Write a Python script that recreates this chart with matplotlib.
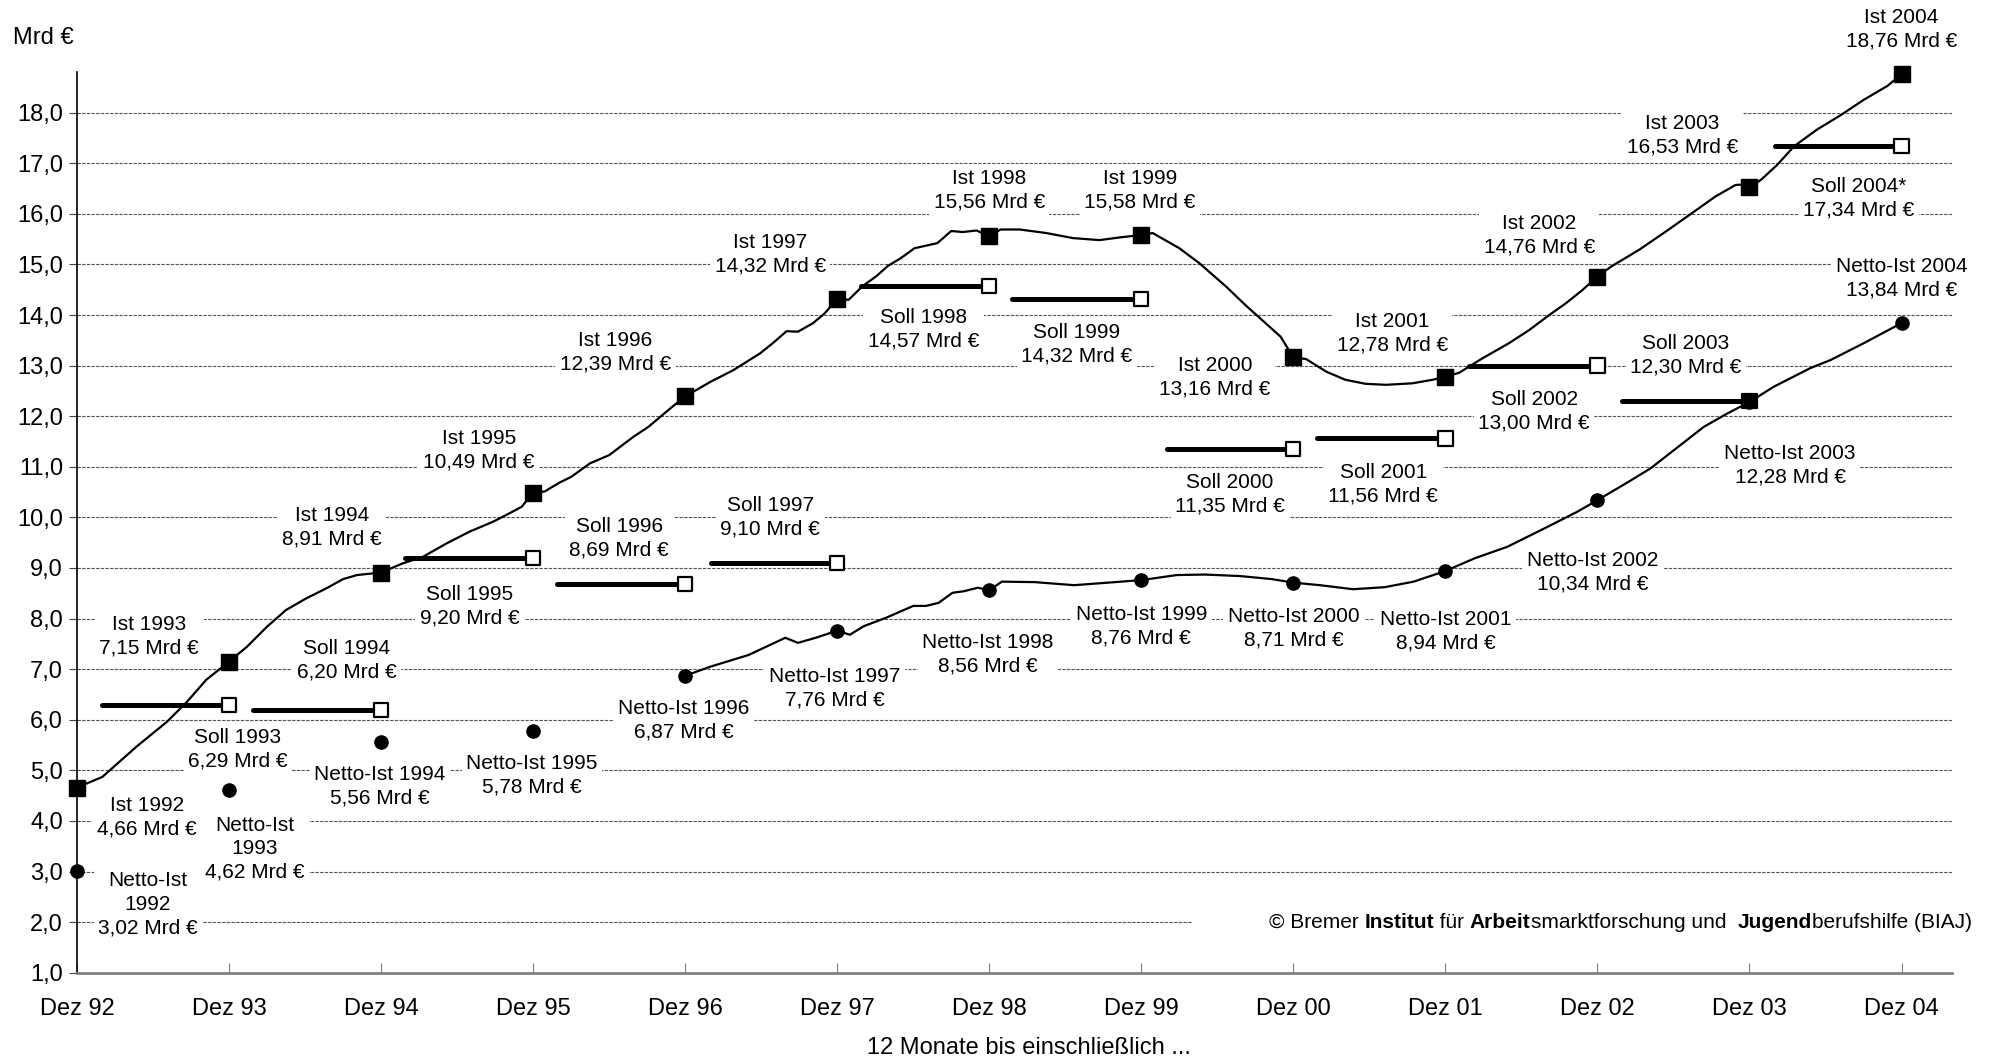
import matplotlib
matplotlib.use("Agg")
import matplotlib.pyplot as plt
from matplotlib.patches import Rectangle

plt.rcParams['font.family'] = ['Liberation Sans', 'DejaVu Sans']

# months since Dez 92
tick_pos = [0, 12, 24, 36, 48, 60, 72, 84, 96, 108, 120, 132, 144]
tick_lab = ['Dez 92', 'Dez 93', 'Dez 94', 'Dez 95', 'Dez 96', 'Dez 97', 'Dez 98',
            'Dez 99', 'Dez 00', 'Dez 01', 'Dez 02', 'Dez 03', 'Dez 04']

# Ist (12-Monats-Summe)
ist_m = [0, 2.0, 4.7, 7.1, 8.7, 10.2, 12, 13.4, 15.0, 16.5, 18.1, 19.7, 21.0, 22.1, 24,
         25.7, 27.3, 29.2, 31.0, 32.8, 33.9, 35.1, 36, 36.9, 38.1, 39.0, 40.5, 42.0,
         43.9, 45.1, 47.0, 48, 50.0, 51.8, 53.9, 54.9, 56.0, 56.9, 58.1, 59.0, 60,
         60.9, 62.0, 63.1, 64.0, 65.0, 66.1, 67.9, 69.0, 69.9, 71.0, 72, 72.9, 74.4,
         76.5, 78.6, 80.7, 82.5, 84, 84.9, 87.0, 88.6, 90.7, 92.2, 93.8, 95.0, 96,
         97.0, 98.6, 100.1, 101.7, 103.3, 105.4, 107.0, 108, 109.1, 110.9, 113.0,
         114.6, 116.2, 117.5, 118.8, 120, 121.1, 123.3, 125.4, 127.5, 129.3, 130.9,
         131.5, 132, 132.9, 134.2, 135.5, 137.3, 139.2, 141.0, 142.9, 144]
ist_v = [4.66, 4.87, 5.47, 5.96, 6.36, 6.79, 7.15, 7.44, 7.84, 8.17, 8.40, 8.60, 8.78, 8.86, 8.91,
         9.09, 9.22, 9.49, 9.72, 9.91, 10.05, 10.21, 10.49, 10.51, 10.69, 10.80, 11.07, 11.23,
         11.59, 11.79, 12.19, 12.39, 12.68, 12.91, 13.24, 13.44, 13.68, 13.67, 13.84, 14.03, 14.32,
         14.30, 14.57, 14.77, 14.97, 15.12, 15.32, 15.42, 15.66, 15.64, 15.67, 15.56, 15.69, 15.69,
         15.62, 15.52, 15.48, 15.54, 15.58, 15.62, 15.32, 15.02, 14.56, 14.20, 13.84, 13.57, 13.16,
         13.13, 12.88, 12.72, 12.64, 12.62, 12.65, 12.72, 12.78, 12.86, 13.14, 13.44,
         13.70, 14.00, 14.23, 14.49, 14.76, 14.96, 15.29, 15.65, 16.02, 16.34, 16.57,
         16.58, 16.53, 16.67, 16.97, 17.33, 17.66, 17.95, 18.25, 18.53, 18.76]

# Netto-Ist, monthly curve from Dez 96
netto_m = [48, 50.0, 53.0, 55.9, 56.9, 58.3, 60, 61.0, 62.1, 63.9, 66.0, 67.0, 68.0, 69.1,
           70.0, 71.1, 72, 73.0, 75.6, 78.7, 81.9, 84, 86.8, 89.0, 91.8, 94.3, 96, 98.1,
           100.7, 103.2, 105.5, 108, 110.3, 112.9, 115.8, 118.4, 120, 122.5, 124.2, 126.4,
           128.4, 130.3, 132, 133.9, 136.8, 138.4, 141.0, 144]
netto_v = [6.87, 7.05, 7.28, 7.62, 7.52, 7.62, 7.76, 7.68, 7.85, 8.02, 8.25, 8.25, 8.31, 8.51,
           8.54, 8.61, 8.56, 8.73, 8.72, 8.66, 8.72, 8.76, 8.86, 8.87, 8.84, 8.78, 8.71, 8.66,
           8.58, 8.62, 8.73, 8.94, 9.19, 9.42, 9.78, 10.11, 10.34, 10.71, 10.97, 11.40,
           11.79, 12.06, 12.28, 12.58, 12.95, 13.11, 13.44, 13.84]

# yearly values (Dez)
ist_year = [4.66, 7.15, 8.91, 10.49, 12.39, 14.32, 15.56, 15.58, 13.16, 12.78, 14.76, 16.53, 18.76]
netto_year = [3.02, 4.62, 5.56, 5.78, 6.87, 7.76, 8.56, 8.76, 8.71, 8.94, 10.34, 12.28, 13.84]

# Soll 1993 .. 2004
soll_v = [6.29, 6.20, 9.20, 8.69, 9.10, 14.57, 14.32, 11.35, 11.56, 13.00, 12.30, 17.34]
soll_start = [2.0, 13.9, 25.9, 37.9, 50.0, 61.9, 73.8, 86.0, 97.9, 109.9, 121.9, 134.0]
soll_end = [12, 24, 36, 48, 60, 72, 84, 96, 108, 120, 132, 144]

# labels: text, x (months), y
labels = [
    ('Ist 1992\n4,66 Mrd €', 5.5, 4.07), ('Netto-Ist\n1992\n3,02 Mrd €', 5.6, 2.35),
    ('Ist 1993\n7,15 Mrd €', 5.7, 7.65), ('Soll 1993\n6,29 Mrd €', 12.7, 5.42),
    ('Netto-Ist\n1993\n4,62 Mrd €', 14.0, 3.45), ('Soll 1994\n6,20 Mrd €', 21.3, 7.18),
    ('Ist 1994\n8,91 Mrd €', 20.1, 9.80), ('Netto-Ist 1994\n5,56 Mrd €', 23.9, 4.68),
    ('Netto-Ist 1995\n5,78 Mrd €', 35.9, 4.91), ('Soll 1995\n9,20 Mrd €', 31.0, 8.25),
    ('Ist 1995\n10,49 Mrd €', 31.7, 11.33), ('Soll 1996\n8,69 Mrd €', 42.8, 9.59),
    ('Ist 1996\n12,39 Mrd €', 42.5, 13.26), ('Soll 1997\n9,10 Mrd €', 54.7, 10.0),
    ('Netto-Ist 1996\n6,87 Mrd €', 47.9, 6.0), ('Netto-Ist 1997\n7,76 Mrd €', 59.8, 6.62),
    ('Ist 1997\n14,32 Mrd €', 54.7, 15.21), ('Soll 1998\n14,57 Mrd €', 66.8, 13.71),
    ('Ist 1998\n15,56 Mrd €', 72.0, 16.47), ('Netto-Ist 1998\n8,56 Mrd €', 71.9, 7.30),
    ('Ist 1999\n15,58 Mrd €', 83.9, 16.47), ('Soll 1999\n14,32 Mrd €', 78.9, 13.43),
    ('Netto-Ist 1999\n8,76 Mrd €', 84.0, 7.85), ('Ist 2000\n13,16 Mrd €', 89.8, 12.76),
    ('Soll 2000\n11,35 Mrd €', 91.0, 10.45), ('Netto-Ist 2000\n8,71 Mrd €', 96.0, 7.80),
    ('Ist 2001\n12,78 Mrd €', 103.8, 13.63), ('Soll 2001\n11,56 Mrd €', 103.1, 10.65),
    ('Netto-Ist 2001\n8,94 Mrd €', 108.0, 7.75), ('Ist 2002\n14,76 Mrd €', 115.4, 15.57),
    ('Soll 2002\n13,00 Mrd €', 115.0, 12.10), ('Netto-Ist 2002\n10,34 Mrd €', 119.6, 8.92),
    ('Soll 2003\n12,30 Mrd €', 127.0, 13.21), ('Ist 2003\n16,53 Mrd €', 126.7, 17.56),
    ('Netto-Ist 2003\n12,28 Mrd €', 135.2, 11.03), ('Soll 2004*\n17,34 Mrd €', 140.6, 16.31),
    ('Ist 2004\n18,76 Mrd €', 144.0, 19.64), ('Netto-Ist 2004\n13,84 Mrd €', 144.0, 14.73),
]

# copyright line, bold words marked
credit = [('© Bremer ', 'normal'), ('Institut', 'bold'), (' für ', 'normal'),
          ('Arbeit', 'bold'), ('smarktforschung und  ', 'normal'), ('Jugend', 'bold'),
          ('berufshilfe (BIAJ)', 'normal')]

fig = plt.figure(figsize=(19.9, 10.61), dpi=100)
ax = fig.add_axes([0.0387, 0.0832, 0.9423, 0.8488])
ax.set_xlim(0, 148)
ax.set_ylim(1, 18.8)

# grid and axes
ax.set_axisbelow(True)
ax.set_yticks(range(1, 19))
ax.set_yticklabels([f'{t},0' for t in range(1, 19)], fontsize=17)
ax.yaxis.grid(True, linestyle=(0, (3, 1.2)), color='#555555', lw=0.8)
ax.set_xticks(tick_pos)
ax.set_xticklabels(tick_lab, fontsize=17)
ax.tick_params(axis='x', direction='in', length=7, color='#808080', pad=18)
ax.tick_params(axis='y', direction='out', length=6, color='#444444', pad=4)
for s in ['top', 'right']:
    ax.spines[s].set_visible(False)
ax.spines['bottom'].set_color('#808080')
ax.spines['bottom'].set_linewidth(2)
ax.spines['left'].set_linewidth(1.2)

# white box behind the copyright note
ax.add_patch(Rectangle((88, 1.72), 62, 0.56, facecolor='white', edgecolor='none',
                       zorder=2, clip_on=False))

# series
ax.plot(ist_m, ist_v, color='black', lw=1.6, zorder=4)
ax.plot(netto_m, netto_v, color='black', lw=1.6, zorder=4)
ax.plot(tick_pos, ist_year, linestyle='', marker='s', markersize=11.5, color='black',
        zorder=5, clip_on=False)
ax.plot(tick_pos, netto_year, linestyle='', marker='o', markersize=9.5, color='black',
        zorder=5, clip_on=False)
for i in range(len(soll_v)):
    ax.plot([soll_start[i], soll_end[i]], [soll_v[i], soll_v[i]], color='black', lw=3.6,
            solid_capstyle='round', zorder=4)
face = ['white'] * len(soll_v)
face[10] = 'black'  # Soll 2003 square sits under the Netto-Ist 2003 point
ax.scatter(soll_end, soll_v, marker='s', s=105, facecolors=face, edgecolors='black',
           linewidths=1.6, zorder=6)

for txt, x, y in labels:
    ax.text(x, y, txt, ha='center', va='center', multialignment='center', fontsize=15,
            linespacing=1.3, zorder=3, clip_on=False,
            bbox=dict(boxstyle='square,pad=0.22', facecolor='white', edgecolor='none'))

fig.text(13 / 1990, 1 - 38 / 1061, 'Mrd €', fontsize=17, ha='left', va='center')
fig.text(1029 / 1990, 1 - 1048 / 1061, '12 Monate bis einschließlich ...', fontsize=17,
         ha='center', va='center')

# chain the credit pieces one after another
prev = fig.text(1269 / 1990, 1 - 922 / 1061, credit[0][0], fontsize=15, ha='left',
                va='center', zorder=6)
for piece, weight in credit[1:]:
    prev = ax.annotate(piece, xy=(1, 0), xycoords=prev, va='bottom', ha='left',
                       fontsize=15, fontweight=weight, zorder=6, annotation_clip=False)

fig.savefig('out.png', dpi=100)
